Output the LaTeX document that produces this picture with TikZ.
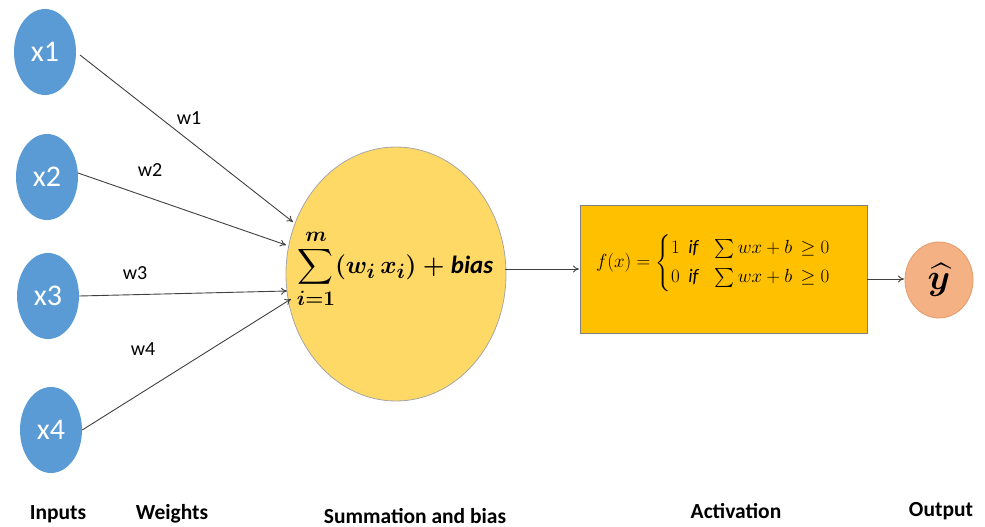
\documentclass[tikz,border=0pt]{standalone}
\usepackage{amsmath,bm,graphicx}
\usepackage{fontspec}
\setmainfont{Carlito}
\usetikzlibrary{shapes.geometric,arrows.meta}
\definecolor{inblue}{HTML}{5B9BD5}
\definecolor{sumyellow}{HTML}{FFD966}
\definecolor{actorange}{HTML}{FFC000}
\definecolor{outsalmon}{HTML}{F4B183}
\definecolor{outborder}{HTML}{E59A6A}
\definecolor{edgegray}{HTML}{404040}
\newcommand{\sumformula}{$\displaystyle\sum_{i=1}^{m}(w_i\,x_i)+\mathit{bias}$}
\newcommand{\actformula}{$f(x)=\begin{cases}1\ \ \mathit{if}\ \ \ \sum wx+b\,\ge 0\\[2pt] 0\ \ \mathit{if}\ \ \ \sum wx+b\,\ge 0\end{cases}$}
\begin{document}
\begin{tikzpicture}[x=1pt,y=-1pt,
  inputnode/.style={ellipse,fill=inblue,draw=none,minimum width=62pt,minimum height=86pt,inner sep=0pt,text=white,font=\fontsize{30}{34}\selectfont},
  wlabel/.style={font=\fontsize{20}{24}\selectfont,inner sep=0pt},
  caption/.style={font=\fontsize{21.5}{25}\selectfont\bfseries,inner sep=0pt},
  conn/.style={draw=edgegray,line width=0.9pt,-{To[length=6pt,width=7pt]}}]
\useasboundingbox (0,0) rectangle (985,527);
% inputs
\node[inputnode] (x1) at (45,52) {x1};
\node[inputnode] (x2) at (47,177) {x2};
\node[inputnode] (x3) at (48,296) {x3};
\node[inputnode] (x4) at (51,430) {x4};
% summation
\node[ellipse,fill=sumyellow,draw=gray!70,line width=0.8pt,minimum width=220pt,minimum height=254pt,inner sep=0pt] (sum) at (396,274) {};
\node[inner sep=0pt,font=\fontsize{24.88}{29}\selectfont\boldmath] (sumtext) at (395,269) {\sumformula};
\coordinate (t1) at (293,222);
\coordinate (t2) at (286,245);
\coordinate (t3) at (287,291);
\coordinate (t4) at (291,299);
\coordinate (s1) at (80,55);
\coordinate (s2) at (78,173);
\draw[conn] (s1) -- (t1);
\draw[conn] (s2) -- (t2);
\draw[conn] (x3.east) -- (t3);
\draw[conn] (x4.east) -- (t4);
% weight labels
\node[wlabel] (w1) at (189,118) {w1};
\node[wlabel] (w2) at (150,170) {w2};
\node[wlabel] (w3) at (135,273) {w3};
\node[wlabel] (w4) at (143,349) {w4};
% activation
\node[rectangle,fill=actorange,draw=gray,line width=0.8pt,minimum width=287pt,minimum height=128pt,inner sep=0pt] (act) at (723.5,269) {};
\node[inner sep=0pt,font=\fontsize{17.28}{20}\selectfont] (acttext) at (723,263) {\scalebox{1.1}{\actformula}};
% output
\node[ellipse,fill=outsalmon,draw=outborder,line width=0.8pt,minimum width=68pt,minimum height=76pt,inner sep=0pt,font=\fontsize{24.88}{29}\selectfont\boldmath] (out) at (939,280) {\scalebox{1.45}{$\widehat{y}$}};
\coordinate (a1) at (505,269);
\coordinate (a2) at (579,269);
\coordinate (b1) at (867,279);
\coordinate (b2) at (904,279);
\draw[conn] (a1) -- (a2);
\draw[conn] (b1) -- (b2);
% captions
\node[caption] (c1) at (58,514) {Inputs};
\node[caption] (c2) at (172,514) {Weights};
\node[caption] (c3) at (415,516) {Summation and bias};
\node[caption] (c4) at (736,511) {Activation};
\node[caption] (c5) at (941,511) {Output};
\end{tikzpicture}
\end{document}
